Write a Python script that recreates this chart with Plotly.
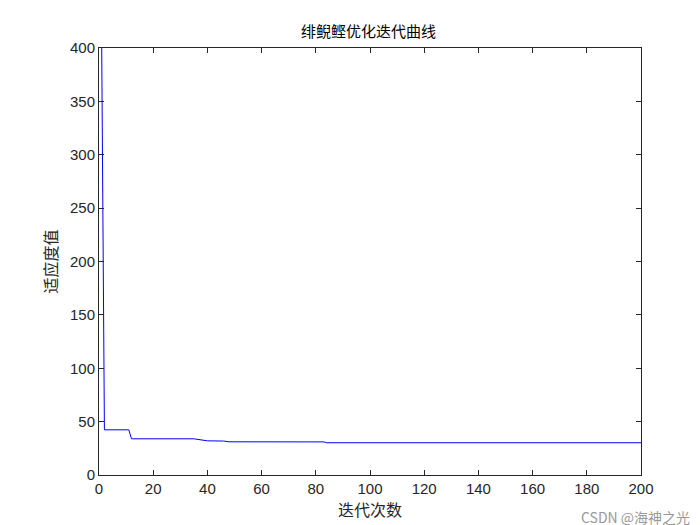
import plotly.graph_objects as go

iters = [1, 2, 11, 12, 35, 38, 40, 46, 48, 83, 84, 200]
fitness = [400, 42.3, 42.3, 33.9, 33.9, 33.0, 32.0, 31.8, 31.1, 31.0, 30.2, 30.2]

font = "Noto Sans CJK SC, Liberation Sans, Arial"

fig = go.Figure(go.Scatter(x=iters, y=fitness, mode="lines",
                           line=dict(color="#0000ff", width=1)))

axis = dict(showline=True, mirror="ticks", linecolor="#262626", linewidth=1,
            ticks="inside", ticklen=5, tickcolor="#262626", showgrid=False,
            zeroline=False,
            tickfont=dict(size=15, color="#262626", family="Liberation Sans, Arial"))

fig.update_layout(
    width=700, height=525,
    plot_bgcolor="white", paper_bgcolor="white",
    font=dict(family=font, color="#262626"),
    showlegend=False,
    title=dict(text="绯鲵鲣优化迭代曲线", x=0.515, xanchor="center", y=0.965,
               font=dict(size=15, color="#000000")),
    xaxis=dict(axis, range=[0, 200], dtick=20,
               title=dict(text="迭代次数", font=dict(size=16), standoff=5)),
    yaxis=dict(axis, range=[0, 400], dtick=50,
               title=dict(text="适应度值", font=dict(size=16), standoff=8)),
    margin=dict(l=91, r=67, t=40, b=58, autoexpand=False),
)

fig.add_annotation(text="CSDN @海神之光", xref="paper", yref="paper",
                   x=1.094, y=-0.07, xanchor="right", yanchor="top",
                   showarrow=False, font=dict(size=14, color="#999999"))

fig.write_html("out.html")
